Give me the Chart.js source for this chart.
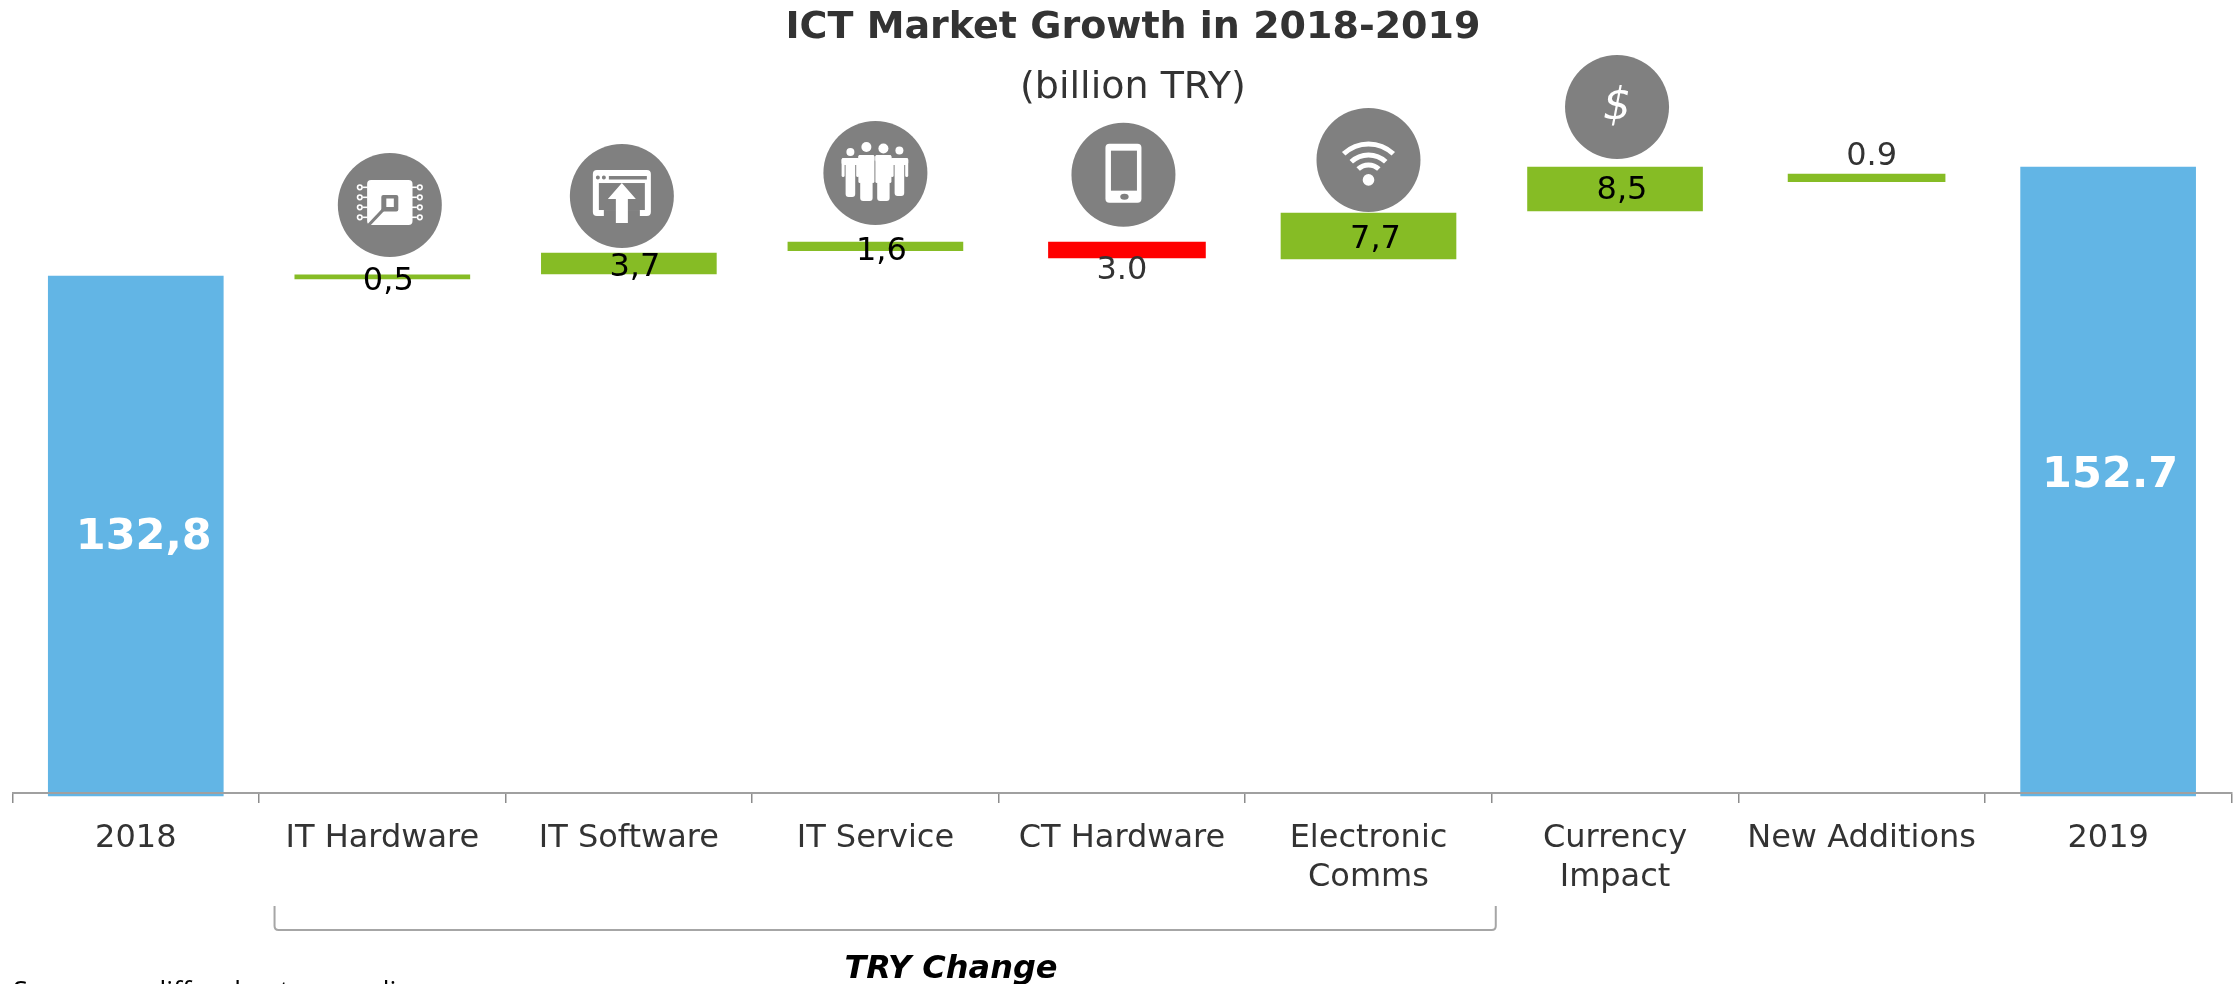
<!DOCTYPE html>
<html><head><meta charset="utf-8">
<style>html,body{margin:0;padding:0;background:#fff}canvas{display:block}</style>
<script src="https://cdn.jsdelivr.net/npm/chart.js@4/dist/chart.umd.min.js"></script>
</head><body><canvas id="c" width="2234" height="984"></canvas>
<script>
const categories = ['2018','IT Hardware','IT Software','IT Service','CT Hardware',['Electronic','Comms'],['Currency','Impact'],'New Additions','2019'];
const barStart = [37.85,132.25,133.2,137.4,136.1,135.9,144.7,150.0,37.85];
const barEnd   = [132.8,133.0,137.0,139.0,139.0,144.3,152.7,151.4,152.7];
const valueLabels = ['132,8','0,5','3,7','1,6','3.0','7,7','8,5','0.9','152.7'];
const labelAt  = [85.0,131.8,134.25,137.3,133.85,139.35,148.35,154.5,96.3];
const labelDx  = [8,6,6,6,0,7,7,10,2];
const iconAt   = [null,145.76,147.4,151.6,151.3,154,163.65,null,null];
const iconDx   = [0,7.5,-7,0,1.5,0,2,0,0];
const iconKinds= [null,'chip','upload','people','phone','wifi','dollar',null,null];
const narrowBars = [4,7];
const BLUE='#62B5E5',GREEN='#86BC25',RED='#FF0000',GREY='#808080',INK='#333333';
const barColors=[BLUE,GREEN,GREEN,GREEN,RED,GREEN,GREEN,GREEN,BLUE];
const FONT="'DejaVu Sans'";
const ranges = categories.map((_,i)=>[barStart[i],barEnd[i]]);
const wide = ranges.map((r,i)=>narrowBars.includes(i)?null:r);
const narrow = ranges.map((r,i)=>narrowBars.includes(i)?r:null);

function rr(c,x,y,w,h,r){c.beginPath();c.roundRect(x,y,w,h,r);c.fill();}
const icons={
 chip(c){
  c.fillStyle='#fff';c.strokeStyle='#fff';c.lineWidth=1.6;
  rr(c,-22.7,-25,45.4,45,4);
  [-17.7,-7.7,2.3,12.3].forEach(y=>{[-1,1].forEach(s=>{
    c.beginPath();c.moveTo(s*22,y);c.lineTo(s*27,y);c.stroke();
    c.beginPath();c.arc(s*30,y,2.3,0,7);c.stroke();});});
  c.fillStyle=GREY;
  rr(c,-8.5,-10,17,16.5,2);
  c.strokeStyle=GREY;c.lineWidth=3.2;c.beginPath();c.moveTo(-5,3);c.lineTo(-22,21);c.stroke();
  c.fillStyle='#fff';c.fillRect(-3.5,-6.5,7.5,8.5);
 },
 upload(c){
  c.fillStyle='#fff';
  rr(c,-29,-26,58,46,4);
  c.fillStyle=GREY;
  c.fillRect(-23,-13,46,27);
  c.beginPath();c.arc(-24,-18.5,2,0,7);c.arc(-18,-18.5,2,0,7);c.fill();
  c.fillRect(-13,-20,38,3.5);
  c.fillRect(-18,14,36,8);
  c.fillStyle='#fff';
  c.beginPath();c.moveTo(0,-13);c.lineTo(14,3);c.lineTo(6,3);c.lineTo(6,27);c.lineTo(-6,27);c.lineTo(-6,3);c.lineTo(-14,3);c.closePath();c.fill();
 },
 people(c){
  c.fillStyle='#fff';
  const fig=(x,hy,hr,top,bot,bw,aw,ab)=>{
   c.beginPath();c.arc(x,hy,hr,0,7);c.fill();
   rr(c,x-aw,top,aw*2,7,2);
   rr(c,x-bw,top,bw*2,bot-top,3);
   rr(c,x-aw,top,3,ab-top,1.5);rr(c,x+aw-3,top,3,ab-top,1.5);
  };
  fig(-25,-21,4,-15,24,4.8,8.8,4);
  fig(-9,-26,5,-18,28,6.2,8,10);
  fig(8,-24.5,5,-18,28,6.2,8,10);
  fig(24,-22.5,4,-15,23,4.8,8.8,4);
 },
 phone(c){
  c.fillStyle='#fff';rr(c,-18,-31,36,59,4);
  c.fillStyle=GREY;c.fillRect(-12.5,-24,26,40);
  c.beginPath();c.ellipse(1,22,4.2,3,0,0,7);c.fill();
 },
 wifi(c){
  c.fillStyle='#fff';c.strokeStyle='#fff';c.lineWidth=5;
  c.beginPath();c.arc(0,20,5.8,0,7);c.fill();
  [36,25,15].forEach(r=>{c.beginPath();c.arc(0,20,r,-Math.PI/2-0.76,-Math.PI/2+0.76);c.stroke();});
 },
 dollar(c){
  c.fillStyle='#fff';c.font="italic 44px 'DejaVu Sans'";c.textAlign='center';c.textBaseline='middle';
  c.fillText('$',0,1);
 }
};

const nudge={id:'nudge',
 afterDatasetsUpdate(chart){
  chart.getDatasetMeta(1).data.forEach(el=>{el.x+=5;});
  chart.getDatasetMeta(2).data.forEach((el,i)=>{el.x+=iconDx[i];});
 },
 afterLayout(chart){
  chart.boxes.filter(b=>b.options&&typeof b.options.text==='string').forEach(b=>{b.left+=11;b.right+=11;});
 }
};
const marks={id:'marks',
 afterDatasetsDraw(chart){
  const c=chart.ctx,x=chart.scales.x,y=chart.scales.y;
  chart.getDatasetMeta(2).data.forEach((p,i)=>{
   if(!iconKinds[i])return;
   c.save();c.translate(p.x,p.y);icons[iconKinds[i]](c);c.restore();
  });
  c.save();c.textAlign='center';c.textBaseline='middle';
  valueLabels.forEach((t,i)=>{
   const big=i===0||i===8;
   c.font=(big?'bold 43px ':'32px ')+FONT;
   c.fillStyle=big?'#fff':(i===4||i===7?INK:'#000');
   c.fillText(t,x.getPixelForValue(i)+labelDx[i],y.getPixelForValue(labelAt[i]));
  });
  c.restore();
 },
 afterDraw(chart){
  const c=chart.ctx,x=chart.scales.x;
  const half=x.getPixelForValue(1)-x.getPixelForValue(0);
  const L=x.getPixelForValue(1)-half/2+15.5,R=x.getPixelForValue(5)+half/2+4;
  c.save();
  c.strokeStyle='#a6a6a6';c.lineWidth=2;c.beginPath();
  c.moveTo(L,906);c.lineTo(L,926);c.quadraticCurveTo(L,930,L+4,930);c.lineTo(R-4,930);c.quadraticCurveTo(R,930,R,926);c.lineTo(R,906);c.stroke();
  c.textAlign='center';c.textBaseline='middle';c.fillStyle='#000';
  c.font='italic bold 32px '+FONT;c.fillText('TRY Change',951,970);
  c.textAlign='left';c.textBaseline='alphabetic';c.fillStyle='#000';
  c.font="27px 'Open Sans'";c.fillText('Sums may differ due to rounding',13,1001);
  c.restore();
 }
};

new Chart(document.getElementById('c'),{
 type:'bar',
 plugins:[nudge,marks],
 data:{labels:categories,datasets:[
  {data:wide,backgroundColor:barColors,barThickness:175,grouped:false,clip:false,borderWidth:0},
  {data:narrow,backgroundColor:barColors,barThickness:157,grouped:false,clip:false,borderWidth:0},
  {type:'line',data:iconAt,showLine:false,clip:false,pointRadius:52,pointHoverRadius:52,pointBackgroundColor:GREY,pointBorderWidth:0}
 ]},
 options:{
  responsive:false,animation:false,events:[],
  layout:{autoPadding:false,padding:{left:12.5,right:2.6,top:0,bottom:0}},
  plugins:{
   legend:{display:false},tooltip:{enabled:false},
   title:{display:true,text:'ICT Market Growth in 2018-2019',color:INK,padding:{top:6,bottom:-3},font:{family:FONT,size:38,weight:'bold',lineHeight:'44px'}},
   subtitle:{display:true,text:'(billion TRY)',color:INK,padding:{top:19,bottom:-1},font:{family:FONT,size:38,weight:'normal',lineHeight:'44px'}}
  },
  scales:{
   x:{
    afterFit(s){s.height=191;s.paddingLeft=0;s.paddingRight=0;},
    offset:true,
    border:{color:'#a0a0a0',width:2,z:1},
    grid:{offset:true,drawOnChartArea:false,drawTicks:true,tickLength:10,color:'#8c8c8c',lineWidth:1.5,z:1},
    ticks:{autoSkip:false,maxRotation:0,minRotation:0,padding:16,color:INK,font:{family:FONT,size:32,lineHeight:'39px'}}
   },
   y:{display:false,min:38.4,max:163.29}
  }
 }
});
</script></body></html>
